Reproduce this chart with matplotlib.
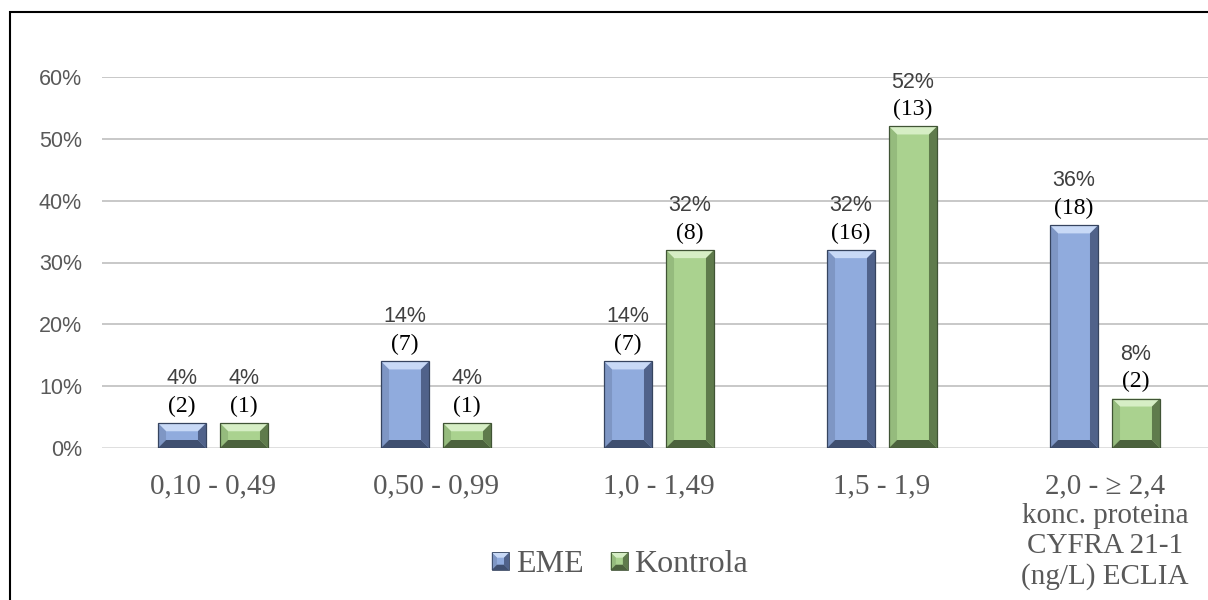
import matplotlib
matplotlib.use('Agg')
import matplotlib.pyplot as plt
from matplotlib.patches import Polygon, Rectangle
from matplotlib.legend_handler import HandlerBase
import numpy as np

categories = ['0,10 - 0,49', '0,50 - 0,99', '1,0 - 1,49', '1,5 - 1,9',
              '2,0 - \u2265 2,4\nkonc. proteina\nCYFRA 21-1\n(ng/L) ECLIA']
eme_pct = [4, 14, 14, 32, 36]
eme_n = [2, 7, 7, 16, 18]
kon_pct = [4, 4, 32, 52, 8]
kon_n = [1, 1, 8, 13, 2]
series_names = ['EME', 'Kontrola']
yticks = [0, 10, 20, 30, 40, 50, 60]
ytick_labels = ['0%', '10%', '20%', '30%', '40%', '50%', '60%']

SANS = ['Liberation Sans', 'DejaVu Sans']
SERIF = ['Liberation Serif', 'DejaVu Serif']

BLUE = dict(face='#90ABDD', top='#C8D9F6', left='#7E96C4', right='#50628A',
            bottom='#3F4F70', edge='#36445F')
GREEN = dict(face='#AAD28F', top='#D6EEC5', left='#95BB7D', right='#5F7B4C',
             bottom='#4C623D', edge='#405435')


def bevel_polys(x0, x1, y0, y1, bx, by):
    bx = min(bx, (x1 - x0) / 2.0)
    by = min(by, (y1 - y0) / 3.0)
    return [
        ('face', [(x0, y0), (x1, y0), (x1, y1), (x0, y1)]),
        ('top', [(x0, y1), (x1, y1), (x1 - bx, y1 - by), (x0 + bx, y1 - by)]),
        ('left', [(x0, y0), (x0, y1), (x0 + bx, y1 - by), (x0 + bx, y0 + by)]),
        ('right', [(x1, y0), (x1, y1), (x1 - bx, y1 - by), (x1 - bx, y0 + by)]),
        ('bottom', [(x0, y0), (x1, y0), (x1 - bx, y0 + by), (x0 + bx, y0 + by)]),
    ]


W, H = 1208, 600
fig = plt.figure(figsize=(W / 100, H / 100), dpi=100)
ax_left, ax_right = 101.5, 1216.5
ax_bottom, ax_top = 448, 77
ax = fig.add_axes([ax_left / W, 1 - ax_bottom / H, (ax_right - ax_left) / W,
                   (ax_bottom - ax_top) / H])
ax.set_xlim(-0.5, len(categories) - 0.5)
ax.set_ylim(0, 60)

x = np.arange(len(categories))
width = 0.215
off = 0.139

px_x = (ax_right - ax_left) / len(categories)
px_y = (ax_bottom - ax_top) / 60.0
bx = 8.0 / px_x
by = 8.0 / px_y

for vals, sign, col in [(eme_pct, -1, BLUE), (kon_pct, 1, GREEN)]:
    bars = ax.bar(x + sign * off, vals, width, color=col['face'],
                  edgecolor='none', zorder=3)
    for p in bars.patches:
        x0 = p.get_x(); x1 = x0 + p.get_width()
        y0 = p.get_y(); y1 = y0 + p.get_height()
        for role, verts in bevel_polys(x0, x1, y0, y1, bx, by):
            ax.add_patch(Polygon(verts, closed=True, facecolor=col[role],
                                 edgecolor='none', zorder=4))
        ax.add_patch(Rectangle((x0, y0), x1 - x0, y1 - y0, fill=False,
                               edgecolor=col['edge'], linewidth=0.9, zorder=5))

for vals, ns, sign in [(eme_pct, eme_n, -1), (kon_pct, kon_n, 1)]:
    for xi, v, n in zip(x, vals, ns):
        ax.annotate(f'({n})', (xi + sign * off, v), xytext=(0, 12),
                    textcoords='offset points', ha='center', va='center',
                    fontsize=17, family=SERIF, color='black', zorder=6)
        ax.annotate(f'{v}%', (xi + sign * off, v), xytext=(0, 32),
                    textcoords='offset points', ha='center', va='center',
                    fontsize=15.5, family=SANS, color='#404040', zorder=6)

ax.set_yticks(yticks)
ax.set_yticklabels(ytick_labels, family=SANS, fontsize=15.5, color='#595959')
ax.set_xticks(x)
ax.set_xticklabels(categories, family=SERIF, fontsize=21, color='#595959',
                   linespacing=1.2)
ax.tick_params(axis='both', length=0)
ax.tick_params(axis='y', pad=14)
ax.tick_params(axis='x', pad=18)
for s in ax.spines.values():
    s.set_visible(False)
ax.set_axisbelow(True)
ax.yaxis.grid(True, color='#BFBFBF', linewidth=1.2, zorder=0)
gl = ax.get_ygridlines()
gl[0].set_color('#D9D9D9')


class BevelHandler(HandlerBase):
    def __init__(self, col):
        super().__init__()
        self.col = col

    def create_artists(self, legend, orig_handle, xdescent, ydescent, width,
                       height, fontsize, trans):
        s = min(width, height)
        x0 = -xdescent + (width - s) / 2
        y0 = -ydescent + (height - s) / 2
        arts = []
        for role, verts in bevel_polys(x0, x0 + s, y0, y0 + s, s * 0.3, s * 0.3):
            arts.append(Polygon(verts, closed=True, facecolor=self.col[role],
                                edgecolor='none', transform=trans))
        arts.append(Rectangle((x0, y0), s, s, fill=False, edgecolor=self.col['edge'],
                              linewidth=0.6, transform=trans))
        return arts


h1 = Rectangle((0, 0), 1, 1)
h2 = Rectangle((0, 0), 1, 1)
leg = fig.legend([h1, h2], series_names, loc='center',
                 bbox_to_anchor=(620 / W, 1 - 565 / H), ncol=2, frameon=False,
                 prop={'family': SERIF, 'size': 23}, handlelength=0.55,
                 handleheight=0.55, handletextpad=0.2, columnspacing=0.85,
                 handler_map={h1: BevelHandler(BLUE), h2: BevelHandler(GREEN)})
for t in leg.get_texts():
    t.set_color('#595959')

fig.add_artist(Rectangle((10 / W, -0.5), 2, (1 - 12 / H) + 0.5, fill=False,
                         edgecolor='black', linewidth=1.5,
                         transform=fig.transFigure, clip_on=False))

fig.savefig('out.png', dpi=100)
